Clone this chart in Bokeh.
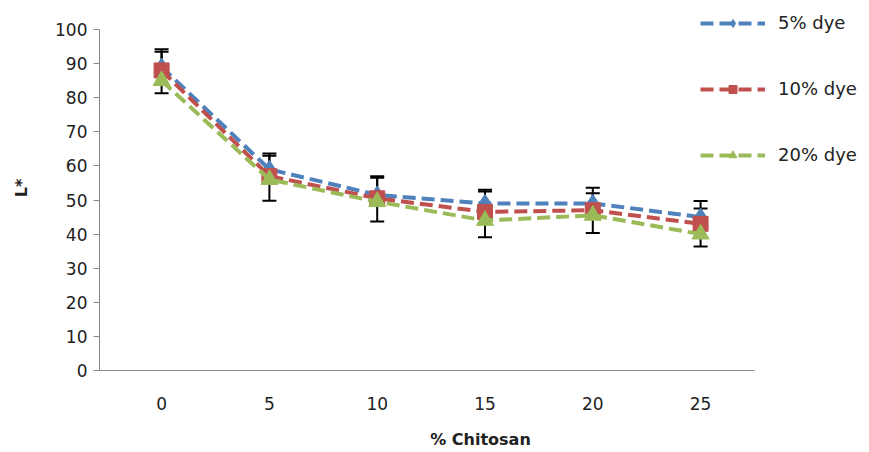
from bokeh.plotting import figure
from bokeh.models import Range1d, FixedTicker, Legend, LegendItem, Whisker, ColumnDataSource, TeeHead
from bokeh.embed import file_html
from bokeh.resources import INLINE

chitosan = [0, 5, 10, 15, 20, 25]
dye5 = [89, 59, 51.5, 49, 49, 45]
dye10 = [88, 57, 50.5, 46.5, 47, 43]
dye20 = [85, 56, 49.5, 44, 45.5, 40]
err_top = [94.2, 63.6, 57, 53, 53.6, 49.7]
err_bottom = [81.3, 49.8, 43.7, 39.1, 40.3, 36.4]
err_mid_top = [93.5, 63, 56.5, 52.5, 52, 47.5]
y_ticks = [0, 10, 20, 30, 40, 50, 60, 70, 80, 90, 100]

FONT = "DejaVu Sans"
W, H = 861, 452
LEFT, TOP, BOTTOM_PX = 99, 5, 370
px_per_y = 3.41
px_per_x = 21.56
x_start = -2.88
y_end = (BOTTOM_PX - TOP) / px_per_y
x_end = x_start + (W - LEFT) / px_per_x

p = figure(width=W, height=H, output_backend="svg", toolbar_location=None,
           x_range=Range1d(x_start, x_end), y_range=Range1d(0, y_end),
           min_border_left=LEFT, min_border_right=0, min_border_top=TOP,
           min_border_bottom=H - BOTTOM_PX)
p.outline_line_color = None
p.xgrid.visible = False
p.ygrid.visible = False

src = ColumnDataSource(dict(x=chitosan, d5=dye5, d10=dye10, d20=dye20,
                            top=err_top, bot=err_bottom, mtop=err_mid_top))

blue, red, green = "#4F81BD", "#C0504D", "#9BBB59"
lw = 4
dash = "13 6"
l1 = p.line("x", "d5", source=src, line_color=blue, line_width=lw, line_dash=dash)
m1 = p.scatter("x", "d5", source=src, marker="diamond", size=18, fill_color=blue, line_color=blue)
l2 = p.line("x", "d10", source=src, line_color=red, line_width=lw, line_dash=dash)
m2 = p.scatter("x", "d10", source=src, marker="square", size=15, fill_color=red, line_color=red)
l3 = p.line("x", "d20", source=src, line_color=green, line_width=lw, line_dash=dash)
m3 = p.scatter("x", "d20", source=src, marker="triangle", size=17, fill_color=green, line_color=green)

w1 = Whisker(source=src, base="x", upper="top", lower="bot", line_color="black", line_width=2,
             upper_head=TeeHead(size=14, line_color="black", line_width=2),
             lower_head=TeeHead(size=14, line_color="black", line_width=2))
w2 = Whisker(source=src, base="x", upper="mtop", lower="d10", line_color="black", line_width=2,
             upper_head=TeeHead(size=14, line_color="black", line_width=2), lower_head=None)
p.add_layout(w1)
p.add_layout(w2)

axis_color = "#868686"
for ax in (p.xaxis[0], p.yaxis[0]):
    ax.axis_line_color = axis_color
    ax.major_tick_line_color = axis_color
    ax.minor_tick_line_color = None
    ax.major_label_text_font = FONT
    ax.major_label_text_font_size = "17px"
    ax.major_label_text_color = "#222222"
    ax.axis_label_text_font = FONT
    ax.axis_label_text_font_style = "bold"
    ax.axis_label_text_font_size = "16px"
    ax.axis_label_text_color = "#222222"

p.xaxis[0].ticker = FixedTicker(ticks=chitosan)
p.xaxis[0].bounds = (x_start, 27.5)
p.xaxis[0].major_tick_out = 0
p.xaxis[0].major_tick_in = 0
p.xaxis[0].major_label_standoff = 26
p.xaxis[0].axis_label = "% Chitosan"
p.xaxis[0].axis_label_standoff = 17

p.yaxis[0].ticker = FixedTicker(ticks=y_ticks)
p.yaxis[0].bounds = (0, 100)
p.yaxis[0].major_tick_out = 6
p.yaxis[0].major_tick_in = 0
p.yaxis[0].major_label_standoff = 6
p.yaxis[0].axis_label = "L*"
p.yaxis[0].axis_label_standoff = 21

legend = Legend(items=[LegendItem(label="5% dye", renderers=[l1, m1]),
                       LegendItem(label="10% dye", renderers=[l2, m2]),
                       LegendItem(label="20% dye", renderers=[l3, m3])],
                location=(601, 205), orientation="vertical")
legend.border_line_color = None
legend.background_fill_alpha = 0
legend.padding = 0
legend.margin = 0
legend.glyph_width = 65
legend.glyph_height = 20
legend.label_height = 20
legend.spacing = 45
legend.label_standoff = 13
legend.label_text_font = FONT
legend.label_text_font_size = "18px"
legend.label_text_color = "#222222"
p.add_layout(legend, "center")

open("out.html", "w").write(file_html(p, INLINE))
